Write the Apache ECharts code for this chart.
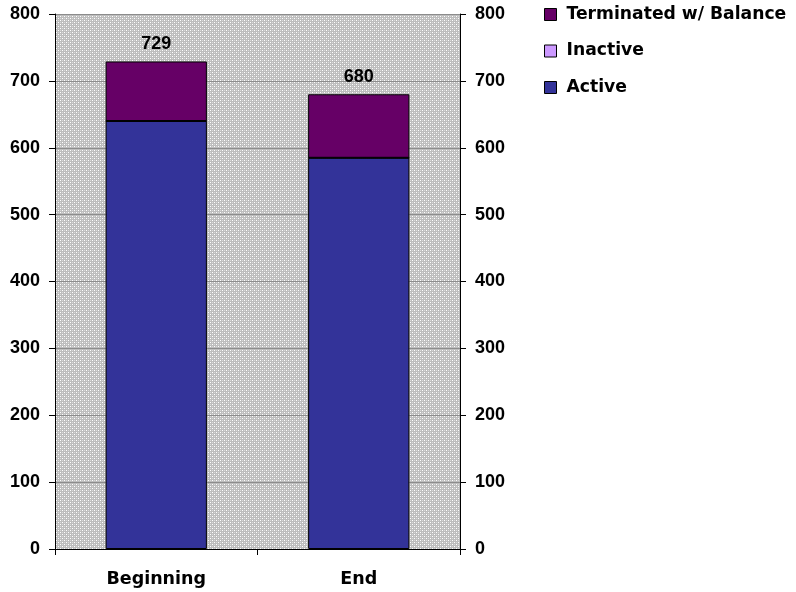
<!DOCTYPE html>
<html><head><meta charset="utf-8">
<script src="https://cdn.jsdelivr.net/npm/echarts@6/dist/echarts.min.js"></script>
<style>html,body{margin:0;padding:0;background:#fff}#c{width:796px;height:592px}</style>
</head><body><div id="c"></div>
<script>
const categories = ['Beginning', 'End'];
const active = [640, 585];
const inactive = [0, 0];
const terminated = [89, 95];
const totals = [729, 680];
const yTicks = [0, 100, 200, 300, 400, 500, 600, 700, 800];

const pc = document.createElement('canvas');
pc.width = 4; pc.height = 4;
const pctx = pc.getContext('2d');
pctx.fillStyle = '#bdbdbd'; pctx.fillRect(0, 0, 4, 4);
pctx.fillStyle = '#ffffff';
pctx.fillRect(0, 0, 1, 1); pctx.fillRect(2, 2, 1, 1);
pctx.fillStyle = '#dadada';
pctx.fillRect(2, 0, 1, 1); pctx.fillRect(0, 2, 1, 1);

const numFont = 'Liberation Sans, Arial, sans-serif';
const wordFont = 'DejaVu Sans, sans-serif';
const chart = echarts.init(document.getElementById('c'), null, {renderer: 'canvas'});
const yAxisCommon = {
  type: 'value', min: 0, max: 800, interval: 100,
  axisLine: {show: true, lineStyle: {color: '#000', width: 1}},
  axisTick: {show: true, length: 6, lineStyle: {color: '#000'}},
  axisLabel: {color: '#000', fontWeight: 'bold', fontSize: 18, fontFamily: numFont, margin: 15,
    formatter: v => yTicks.includes(v) ? String(v) : ''},
  splitLine: {show: true, lineStyle: {color: '#8c8c8c', width: 1}}
};
chart.setOption({
  animation: false,
  grid: {left: 55, right: 336, top: 14, bottom: 43, show: true,
    backgroundColor: {image: pc, repeat: 'repeat'}, borderWidth: 0},
  legend: {
    orient: 'vertical', left: 544, top: 5, padding: 0, itemGap: 17.5, itemWidth: 12, itemHeight: 12,
    icon: 'rect', data: ['Terminated w/ Balance', 'Inactive', 'Active'],
    textStyle: {color: '#000', fontWeight: 'bold', fontSize: 17.2, fontFamily: wordFont, lineHeight: 19,
      padding: [0, 0, 0, 5]},
    itemStyle: {borderColor: '#000', borderWidth: 1}
  },
  xAxis: {
    type: 'category', data: categories,
    axisLine: {show: true, lineStyle: {color: '#000'}},
    axisTick: {show: true, length: 6, alignWithLabel: false, lineStyle: {color: '#000'}},
    axisLabel: {color: '#000', fontWeight: 'bold', fontSize: 17.5, fontFamily: wordFont, margin: 21}
  },
  yAxis: [
    Object.assign({}, yAxisCommon, {position: 'left'}),
    Object.assign({}, yAxisCommon, {position: 'right', splitLine: {show: false}})
  ],
  series: [
    {name: 'Active', type: 'bar', stack: 's', data: active, barWidth: '50%',
      itemStyle: {color: '#333399', borderColor: '#000', borderWidth: 1}},
    {name: 'Inactive', type: 'bar', stack: 's', data: inactive,
      itemStyle: {color: '#cc99ff', borderColor: '#000', borderWidth: 1}},
    {name: 'Terminated w/ Balance', type: 'bar', stack: 's', data: terminated,
      itemStyle: {color: '#660066', borderColor: '#000', borderWidth: 1},
      label: {show: true, position: 'top', distance: 8, color: '#000', fontWeight: 'bold',
        fontSize: 18, fontFamily: numFont, formatter: p => String(totals[p.dataIndex])}}
  ]
});
</script></body></html>
